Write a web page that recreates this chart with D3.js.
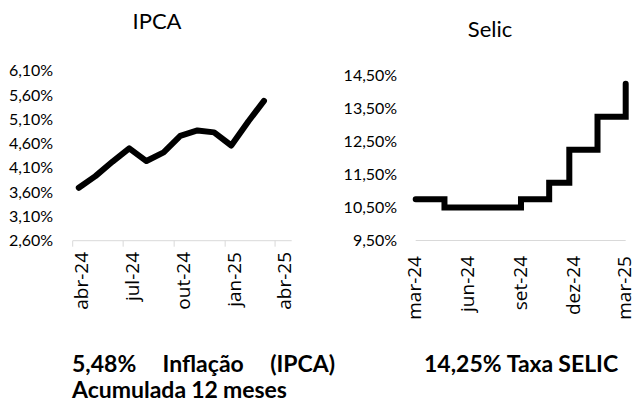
<!DOCTYPE html>
<html>
<head>
<meta charset="utf-8">
<script src="https://cdn.jsdelivr.net/npm/d3@7"></script>
<style>
  body { margin: 0; background: #fff; }
  text { fill: #000; }
</style>
</head>
<body>
<svg id="chart" width="634" height="406"></svg>
<script>
// data - IPCA 12 meses
var ipcaDates = ["2024-04-12", "2024-05-12", "2024-06-12", "2024-07-12", "2024-08-12", "2024-09-12",
                 "2024-10-12", "2024-11-12", "2024-12-12", "2025-01-12", "2025-02-12", "2025-03-12"];
var ipcaValues = [3.69, 3.93, 4.23, 4.50, 4.24, 4.42, 4.76, 4.87, 4.83, 4.56, 5.06, 5.48];
var ipcaYTicks = [2.6, 3.1, 3.6, 4.1, 4.6, 5.1, 5.6, 6.1];
var ipcaXTicks = ["2024-04-01", "2024-07-01", "2024-10-01", "2025-01-01", "2025-04-01"];
var ipcaXLabels = ["abr-24", "jul-24", "out-24", "jan-25", "abr-25"];

// data - Selic (data de vigência)
var selicDates = ["2024-03-20", "2024-05-09", "2024-09-19", "2024-11-07", "2024-12-12", "2025-01-30", "2025-03-20"];
var selicValues = [10.75, 10.50, 10.75, 11.25, 12.25, 13.25, 14.25];
var selicYTicks = [9.5, 10.5, 11.5, 12.5, 13.5, 14.5];
var selicXTicks = ["2024-03-20", "2024-06-20", "2024-09-20", "2024-12-20", "2025-03-20"];
var selicXLabels = ["mar-24", "jun-24", "set-24", "dez-24", "mar-25"];

var svg = d3.select("#chart");
var parse = d3.utcParse("%Y-%m-%d");
var pct = function (d) { return d3.format(".2f")(d).replace(".", ",") + "%"; };

var tickFont = "Lato, 'Open Sans', sans-serif";
var dateFont = "'Open Sans', sans-serif";

function drawPanel(opt) {
  var x = d3.scaleUtc().domain(opt.xDomain.map(parse)).range(opt.xRange);
  var y = d3.scaleLinear().domain(opt.yDomain).range(opt.yRange);

  // y labels
  var yAxis = svg.append("g")
    .attr("transform", "translate(" + opt.xRange[0] + ",0)")
    .call(d3.axisLeft(y).tickValues(opt.yTicks).tickSize(0).tickPadding(opt.yPad).tickFormat(pct));
  yAxis.select(".domain").remove();
  yAxis.selectAll("text")
    .style("font-family", tickFont)
    .style("font-size", "16px")
    .attr("fill", "#000");

  // x axis line
  svg.append("line")
    .attr("x1", opt.xRange[0]).attr("x2", opt.xRange[1])
    .attr("y1", y(opt.yDomain[0])).attr("y2", y(opt.yDomain[0]))
    .attr("stroke", "#d9d9d9").attr("stroke-width", 1);

  // x ticks + labels
  opt.xTicks.forEach(function (t, i) {
    var tx = x(parse(t));
    if (opt.tickLen > 0) {
      svg.append("line")
        .attr("x1", tx).attr("x2", tx)
        .attr("y1", y(opt.yDomain[0])).attr("y2", y(opt.yDomain[0]) + opt.tickLen)
        .attr("stroke", "#d9d9d9").attr("stroke-width", 1);
    }
    svg.append("text")
      .attr("transform", "translate(" + (tx + opt.labelShift) + "," + opt.labelTop + ") rotate(-90)")
      .attr("text-anchor", "end")
      .attr("dy", "0.35em")
      .style("font-family", dateFont)
      .style("font-size", "19px")
      .text(opt.xLabels[i]);
  });

  // the line
  var data = opt.dates.map(function (d, i) { return [parse(d), opt.values[i]]; });
  var line = d3.line()
    .x(function (d) { return x(d[0]); })
    .y(function (d) { return y(d[1]); })
    .curve(opt.curve);
  svg.append("path")
    .attr("d", line(data))
    .attr("fill", "none")
    .attr("stroke", "#000")
    .attr("stroke-width", 6)
    .attr("stroke-linecap", "round")
    .attr("stroke-linejoin", opt.join);

  // title
  svg.append("text")
    .attr("x", opt.titleX).attr("y", opt.titleY)
    .attr("text-anchor", "middle")
    .style("font-family", tickFont)
    .style("font-size", "22px")
    .text(opt.title);
}

drawPanel({
  title: "IPCA", titleX: 157, titleY: 29,
  dates: ipcaDates, values: ipcaValues,
  xDomain: ["2024-04-01", "2025-05-01"], xRange: [72.7, 291.7],
  yDomain: [2.6, 6.1], yRange: [240.7, 70.7],
  yTicks: ipcaYTicks, yPad: 19.5,
  xTicks: ipcaXTicks, xLabels: ipcaXLabels,
  tickLen: 6, labelShift: 9, labelTop: 252,
  curve: d3.curveLinear, join: "round"
});

drawPanel({
  title: "Selic", titleX: 490, titleY: 37,
  dates: selicDates, values: selicValues,
  xDomain: ["2024-03-20", "2025-03-20"], xRange: [415.7, 625.7],
  yDomain: [9.5, 14.5], yRange: [240.5, 75.5],
  yTicks: selicYTicks, yPad: 18.5,
  xTicks: selicXTicks, xLabels: selicXLabels,
  tickLen: 0, labelShift: -1, labelTop: 256,
  curve: d3.curveStepAfter, join: "miter"
});

// bottom captions
var boldFont = "Lato, sans-serif";
function caption(words, x0, x1, yb, size) {
  var g = svg.append("g");
  var items = words.map(function (w) {
    return g.append("text").attr("y", yb)
      .style("font-family", boldFont).style("font-weight", "bold").style("font-size", size + "px")
      .text(w);
  });
  var cx = x0;
  if (x1 == null) {
    // left aligned, normal spacing
    items.forEach(function (t) {
      t.attr("x", cx);
      cx += t.node().getComputedTextLength() + size * 0.22;
    });
    return;
  }
  // justified between x0 and x1
  var total = d3.sum(items, function (t) { return t.node().getComputedTextLength(); });
  var gap = (x1 - x0 - total) / (items.length - 1);
  items.forEach(function (t) {
    t.attr("x", cx);
    cx += t.node().getComputedTextLength() + gap;
  });
}

caption(["5,48%", "Inflação", "(IPCA)"], 72, 335, 372, 23);
caption(["Acumulada", "12", "meses"], 72, null, 398, 23);
caption(["14,25%", "Taxa", "SELIC"], 424, null, 372, 23);
</script>
</body>
</html>
